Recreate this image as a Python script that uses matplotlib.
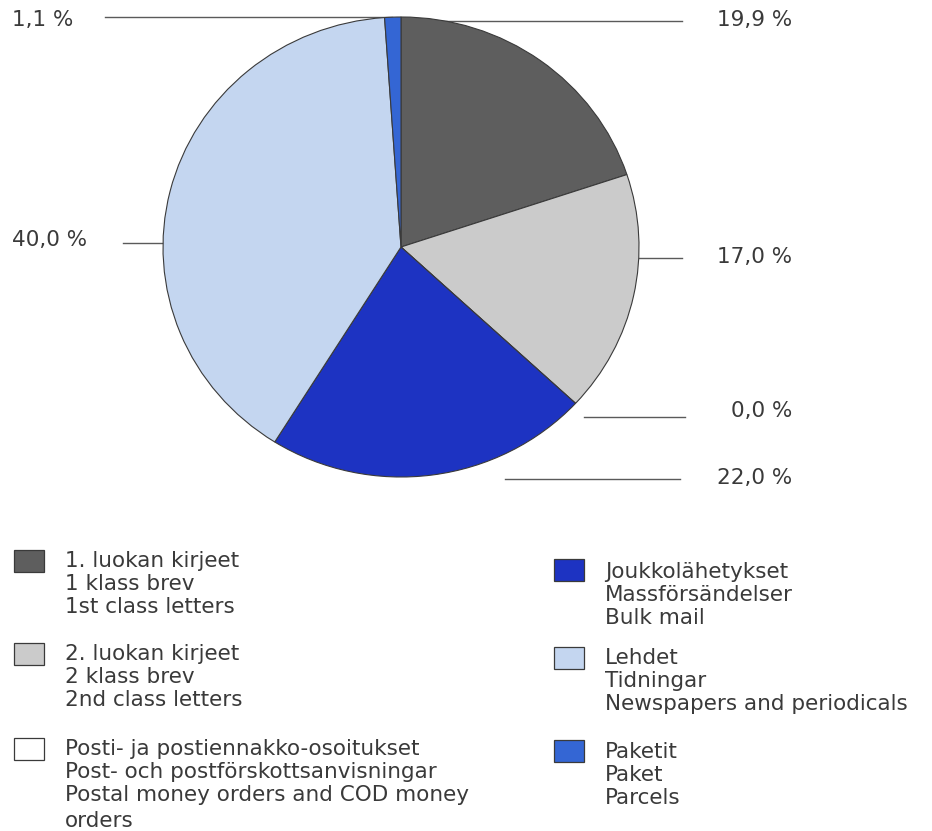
import matplotlib
matplotlib.use("Agg")
import matplotlib.pyplot as plt
from matplotlib.patches import Rectangle

# shares in percent, clockwise from 12 o'clock
values = [19.9, 17.0, 0.0, 22.0, 40.0, 1.1]
colors = ["#5e5e5e", "#cbcbcb", "#ffffff", "#1d33c2", "#c4d6f0", "#3466d4"]
legend_labels = [
    ["1. luokan kirjeet", "1 klass brev", "1st class letters"],
    ["2. luokan kirjeet", "2 klass brev", "2nd class letters"],
    ["Posti- ja postiennakko-osoitukset", "Post- och postförskottsanvisningar",
     "Postal money orders and COD money", "orders"],
    ["Joukkolähetykset", "Massförsändelser", "Bulk mail"],
    ["Lehdet", "Tidningar", "Newspapers and periodicals"],
    ["Paketit", "Paket", "Parcels"],
]

W, H = 932, 831
fig = plt.figure(figsize=(W / 100, H / 100), dpi=100)
fig.patch.set_facecolor("white")

txt = dict(color="#3a3a3a", fontsize=15.5, family="DejaVu Sans")

# pie axes, placed in pixel box (slightly elliptic like the print)
px0, py0, pw, ph = 163, 17, 476, 460
ax = fig.add_axes([px0 / W, 1 - (py0 + ph) / H, pw / W, ph / H])
ax.pie(values, colors=colors, startangle=90, counterclock=False,
       wedgeprops=dict(edgecolor="#3a3a3a", linewidth=0.8))
ax.set_aspect("auto")
ax.set_xlim(-1.0, 1.0)
ax.set_ylim(-1.0, 1.0)
ax.axis("off")

# overlay in pixel coordinates for leader lines, labels and legend
ov = fig.add_axes([0, 0, 1, 1], zorder=-1)
ov.set_xlim(0, W)
ov.set_ylim(H, 0)
ov.axis("off")

# label layout: (index, line y, line start x, line end x, text x, text y, ha)
label_layout = [
    (0, 21, 410, 682, 792, 20, "right"),
    (1, 258, 639, 682, 792, 257, "right"),
    (2, 417, 584, 685, 792, 411, "right"),
    (3, 479, 505, 680, 792, 478, "right"),
    (4, 243, 123, 164, 12, 240, "left"),
    (5, 17, 105, 392, 12, 20, "left"),
]
for i, y, x0, x1, tx, ty, ha in label_layout:
    ov.plot([x0, x1], [y, y], color="#5a5a5a", lw=1.0)
    label = f"{values[i]:.1f}".replace(".", ",") + " %"
    ov.text(tx, ty, label, ha=ha, va="center", **txt)

# legend, two columns: (box x, box top y, first text line y)
legend_layout = [(14, 550, 561), (14, 643, 654), (14, 738, 749),
                 (554, 559, 572), (554, 647, 658), (554, 740, 752)]
step = 23
for (lx, ly, ty), lines, c in zip(legend_layout, legend_labels, colors):
    ov.add_patch(Rectangle((lx, ly), 30, 22, facecolor=c, edgecolor="#3a3a3a", lw=0.9))
    for k, line in enumerate(lines):
        extra = 3 if k == 3 else 0
        ov.text(lx + 51, ty + k * step + extra, line, ha="left", va="center", **txt)

fig.savefig("out.png", dpi=100, facecolor="white")
